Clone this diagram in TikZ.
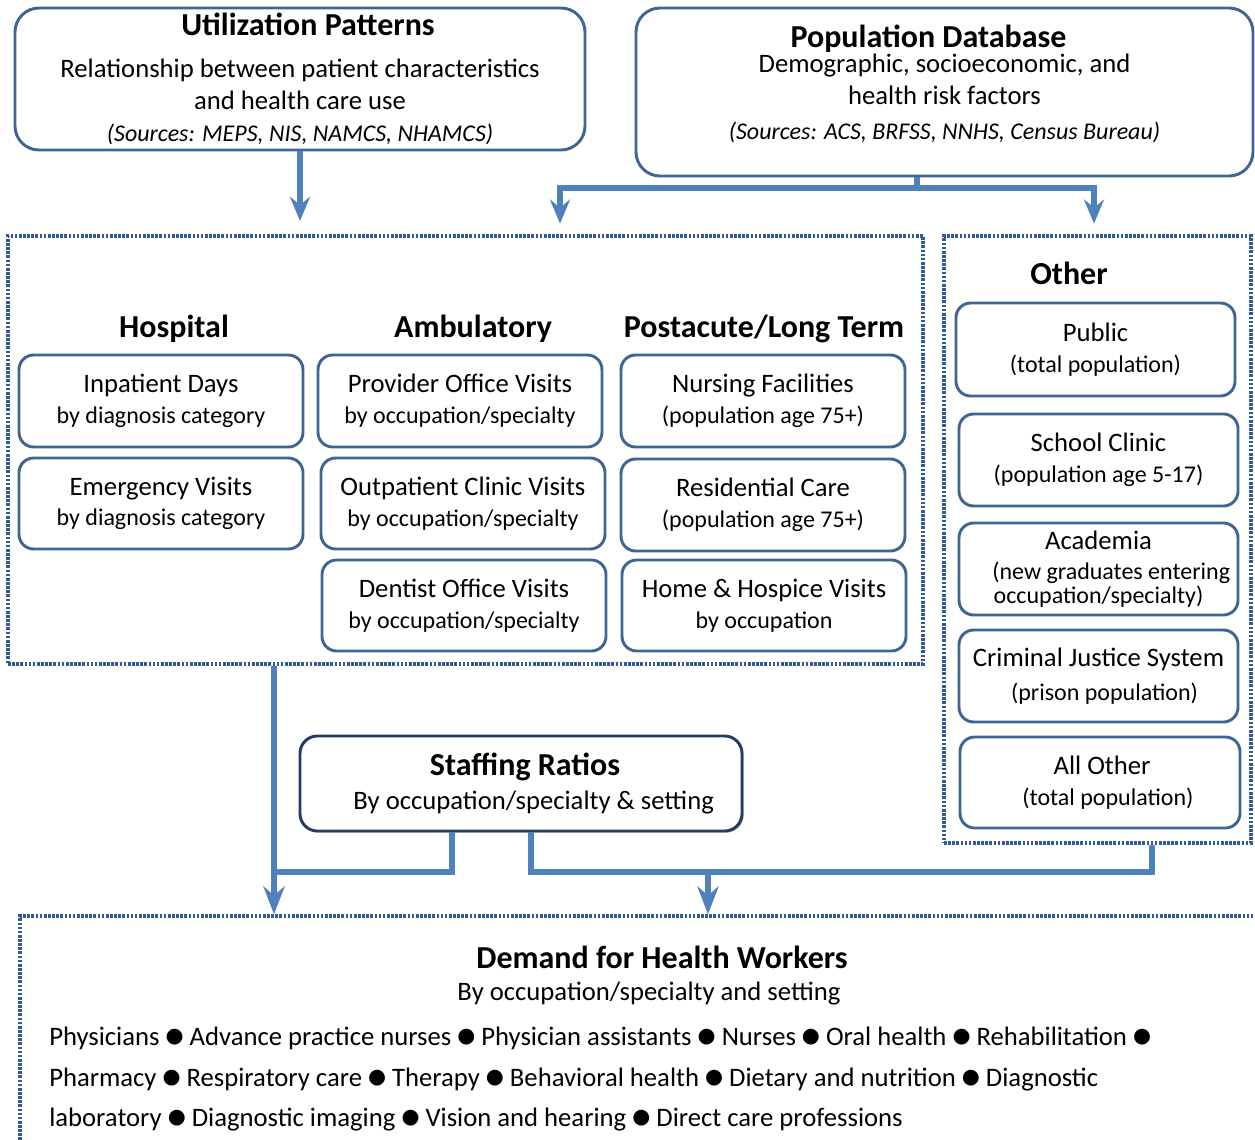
\documentclass[tikz,border=0pt]{standalone}
\usepackage{fontspec}
\setmainfont{Carlito}
\newfontfamily\symfont{DejaVu Sans}
\usetikzlibrary{arrows.meta,shadows}

\definecolor{edgeblue}{RGB}{64,100,148}
\definecolor{flowblue}{RGB}{79,129,189}
\definecolor{dotblue}{RGB}{50,90,150}
\definecolor{navy}{RGB}{36,60,100}

% type sizes
\newcommand\hdsz{\fontsize{24}{28}\selectfont\bfseries}
\newcommand\mnsz{\fontsize{20}{24}\selectfont}
\newcommand\sbsz{\fontsize{18}{23}\selectfont}
\newcommand\sepdot{\raisebox{2.2pt}{\symfont\fontsize{15.5}{15.5}\selectfont ●}}

\begin{document}
\begin{tikzpicture}[x=0.75pt, y=-0.75pt,
  card/.style={draw=edgeblue, line width=2.2pt, rounded corners=11pt, fill=white,
    align=center, inner sep=0pt, font=\sbsz},
  wh/.style 2 args={minimum width=#1*0.75pt, minimum height=#2*0.75pt},
  group/.style={draw=dotblue, line width=2.6pt, dash pattern=on 2pt off 1.1pt, inner sep=0pt},
  head/.style={font=\hdsz, inner sep=0pt, anchor=base},
  plain/.style={inner sep=0pt, anchor=base},
  flow/.style={draw=flowblue, line width=4pt},
  arrowed/.style={-{Stealth[length=18pt, width=15pt, inset=6pt]}},
  bigarrowed/.style={-{Stealth[length=21pt, width=16pt, inset=7pt]}}
]
\path[fill=white, use as bounding box] (0,0) rectangle (1255,1139);

% ---------- sources ----------
\node[card, wh={570}{142}, rounded corners=18pt, font=\mnsz] (util) at (300,79)
  {\hspace*{12pt}{\hdsz Utilization Patterns}\\[7pt]
   Relationship between patient characteristics\\
   and health care use\\
   {\sbsz\itshape (Sources: MEPS, NIS, NAMCS, NHAMCS)}};

\node[card, wh={617}{168}, rounded corners=18pt, font=\mnsz] (pop) at (944.5,92)
  {{\hdsz Population Database}\hspace*{24pt}\\[-5pt]
   Demographic, socioeconomic, and\hspace*{14pt}\\
   health risk factors\hspace*{14pt}\\[2pt]
   {\sbsz\itshape (Sources: ACS, BRFSS, NNHS, Census Bureau)}\\[-9pt]\mbox{}};

% ---------- care settings ----------
\node[group, wh={915}{428}] (care) at (465.5,450) {};
\node[group, wh={307}{607}] (other) at (1097.5,539.5) {};

\node[head] (hhosp) at (174,337) {Hospital};
\node[head] (hamb)  at (473,337) {Ambulatory};
\node[head] (hpost) at (764,337) {Postacute/Long Term};
\node[head] (hoth)  at (1069,284) {Other};

\node[card, wh={284}{92}] (inpat) at (161,401)
  {{\mnsz Inpatient Days}\\ by diagnosis category};
\node[card, wh={284}{91}] (emerg) at (161,503.5)
  {{\mnsz Emergency Visits}\\ by diagnosis category};

\node[card, wh={284}{92}] (prov) at (460,401)
  {{\mnsz Provider Office Visits}\\ by occupation/specialty};
\node[card, wh={284}{91}] (outp) at (463,503.5)
  {{\mnsz Outpatient Clinic Visits}\\ by occupation/specialty};
\node[card, wh={284}{91}] (dent) at (464,605.5)
  {{\mnsz Dentist Office Visits}\\ by occupation/specialty};

\node[card, wh={284}{92}] (nurs) at (763,401)
  {{\mnsz Nursing Facilities}\\ (population age 75+)};
\node[card, wh={284}{92}] (resid) at (763,505)
  {{\mnsz Residential Care}\\ (population age 75+)};
\node[card, wh={284}{91}] (home) at (764,605.5)
  {{\mnsz Home \& Hospice Visits}\\ by occupation};

\node[card, wh={279}{93}] (public) at (1095.5,349.5)
  {{\mnsz Public}\\ (total population)};
\node[card, wh={279}{92}] (school) at (1098.5,460)
  {{\mnsz School Clinic}\\ (population age 5-17)};
\node[card, wh={279}{92}] (acad) at (1098.5,569)
  {{\mnsz Academia}\\[-1pt] \hspace*{19pt}(new graduates entering\\[-5pt] occupation/specialty)};
\node[card, wh={279}{92}] (crim) at (1098.5,676)
  {{\mnsz Criminal Justice System}\\[2pt] \hspace*{9pt}(prison population)};
\node[card, wh={280}{91}] (allo) at (1100,782.5)
  {{\mnsz \hspace*{3pt}All Other}\\ \hspace*{12pt}(total population)};

% ---------- staffing ----------
\node[card, draw=navy, wh={442}{95}, rounded corners=13pt, font=\mnsz,
  drop shadow={shadow xshift=1.2pt, shadow yshift=-1.2pt, opacity=0.35, fill=black}] (staff) at (521,783.5)
  {\hspace*{6pt}{\hdsz Staffing Ratios}\\[2pt]\hspace*{19pt}By occupation/specialty \& setting};

% ---------- demand ----------
\node[group, wh={1270}{260}] (demand) at (655,1046) {};
\node[plain, font=\hdsz] (dtitle) at (662,968) {Demand for Health Workers};
\node[plain, font=\mnsz] (dsub) at (649,1000) {By occupation/specialty and setting};
\node[plain, anchor=base west, font=\mnsz] (list1) at (49,1045)
  {Physicians \sepdot{} Advance practice nurses \sepdot{} Physician assistants \sepdot{} Nurses \sepdot{} Oral health \sepdot{} Rehabilitation \sepdot};
\node[plain, anchor=base west, font=\mnsz] (list2) at (49,1086)
  {Pharmacy \sepdot{} Respiratory care \sepdot{} Therapy \sepdot{} Behavioral health \sepdot{} Dietary and nutrition \sepdot{} Diagnostic};
\node[plain, anchor=base west, font=\mnsz] (list3) at (49,1126)
  {laboratory \sepdot{} Diagnostic imaging \sepdot{} Vision and hearing \sepdot{} Direct care professions};

% ---------- connectors ----------
\coordinate (popj) at (917,188);
\coordinate (jl) at (274,872);
\coordinate (jr) at (708,872);

\draw[flow, arrowed, shorten >=10pt] (util.south) -- (util.south |- care.north);
\draw[flow] (pop.south -| popj) -- (popj);
\draw[flow, arrowed, shorten >=8pt] (popj) -| (care.north -| 560,0);
\draw[flow, arrowed, shorten >=8pt] (popj) -| (other.north -| 1094,0);

\draw[flow, bigarrowed] (care.south -| jl) -- (demand.north -| jl);
\draw[flow] (staff.south -| 452,0) |- (jl);
\draw[flow] (staff.south -| 531,0) |- (jr) -| (other.south -| 1152,0);
\draw[flow, bigarrowed] (jr) -- (demand.north -| jr);
\end{tikzpicture}
\end{document}
